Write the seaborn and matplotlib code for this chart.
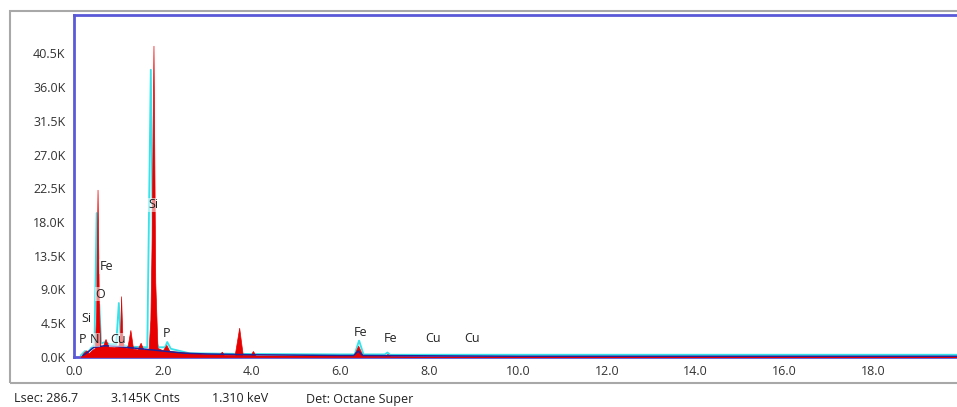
import numpy as np
import pandas as pd
import seaborn as sns
import matplotlib.pyplot as plt
from matplotlib.patches import Rectangle

# spectrum (energy in keV, counts in K)
red_kev = [0.15, 0.22, 0.28, 0.33, 0.40, 0.47, 0.50, 0.53, 0.56, 0.59, 0.65, 0.71, 0.77, 0.90,
           1.00, 1.04, 1.06, 1.09, 1.12, 1.20, 1.27, 1.33, 1.43, 1.50, 1.56, 1.68, 1.72, 1.75,
           1.79, 1.83, 1.88, 2.00, 2.08, 2.15, 2.50, 3.00, 3.28, 3.33, 3.38, 3.62,
           3.72, 3.80, 3.98, 4.03, 4.09, 5.00, 6.30, 6.40, 6.50, 7.00, 7.06, 7.12,
           8.00, 20.0]
red_cnt = [0.0, 0.6, 0.9, 0.5, 0.9, 1.2, 6.0, 22.3, 7.0, 1.5, 1.4, 2.4, 1.4, 1.3,
           1.4, 3.0, 8.1, 2.5, 1.3, 1.2, 3.6, 1.1, 1.0, 1.9, 1.0, 1.0, 5.0, 16.0,
           41.5, 10.0, 1.2, 0.9, 1.6, 0.8, 0.6, 0.4, 0.4, 0.7, 0.3, 0.3,
           3.9, 0.3, 0.3, 0.8, 0.2, 0.2, 0.2, 1.5, 0.2, 0.15, 0.4, 0.1,
           0.05, 0.0]

cyan_kev = [0.15, 0.25, 0.30, 0.40, 0.46, 0.51, 0.54, 0.57, 0.61, 0.70, 0.80, 0.95,
            1.01, 1.06, 1.20, 1.65, 1.73, 1.80, 1.90, 2.05, 2.10, 2.18, 2.60, 4.00,
            6.00, 6.32, 6.42, 6.52, 7.00, 7.06, 7.12, 10.0, 20.0]
cyan_cnt = [0.2, 0.8, 0.5, 1.3, 1.6, 19.2, 5.0, 7.0, 1.8, 2.0, 1.7, 1.7,
            7.2, 1.8, 1.4, 1.3, 38.3, 3.0, 1.3, 1.3, 2.0, 1.1, 0.5, 0.4,
            0.35, 0.35, 2.2, 0.35, 0.35, 0.6, 0.3, 0.3, 0.3]

bg_kev = [0.20, 0.30, 0.45, 0.70, 1.00, 1.50, 2.00, 2.50, 3.00, 4.00, 6.00, 6.30,
          6.40, 6.50, 10.0, 20.0]
bg_cnt = [0.2, 0.6, 1.3, 1.5, 1.4, 1.1, 0.8, 0.5, 0.4, 0.3, 0.2, 0.2,
          0.8, 0.2, 0.1, 0.1]

labels = ["P", "N", "Si", "O", "Fe", "Cu", "Si", "P", "Fe", "Fe", "Cu", "Cu"]
label_kev = [0.20, 0.47, 0.29, 0.59, 0.74, 0.99, 1.80, 2.09, 6.46, 7.12, 8.09, 8.96]
label_cnt = [2.3, 2.3, 5.2, 8.4, 12.1, 2.3, 20.3, 3.1, 3.2, 2.4, 2.4, 2.4]

yticks = [0.0, 4.5, 9.0, 13.5, 18.0, 22.5, 27.0, 31.5, 36.0, 40.5]
xticks = [0.0, 2.0, 4.0, 6.0, 8.0, 10.0, 12.0, 14.0, 16.0, 18.0]
footer = ["Lsec: 286.7", "3.145K Cnts", "1.310 keV", "Det: Octane Super"]

sns.set_style("white")
plt.rcParams['font.family'] = ['Open Sans', 'DejaVu Sans']

red = pd.DataFrame({"kev": red_kev, "cnt": np.array(red_cnt) * 1000})
cyan = pd.DataFrame({"kev": cyan_kev, "cnt": np.array(cyan_cnt) * 1000})
bg = pd.DataFrame({"kev": bg_kev, "cnt": np.array(bg_cnt) * 1000})

fig = plt.figure(figsize=(9.57, 4.07), dpi=100)
ax = fig.add_axes([74 / 957, 50 / 407, 888 / 957, 342 / 407])

# outer grey frame
fig.patches.append(Rectangle((10 / 957, 24 / 407), 1.0, 372 / 407, transform=fig.transFigure,
                             fill=False, edgecolor="#a8a8a8", linewidth=1.5))

sns.lineplot(data=cyan, x="kev", y="cnt", ax=ax, color="#38e2ea", linewidth=1.3, zorder=2)
ax.fill_between(cyan["kev"], cyan["cnt"], color="#d8f8f8", alpha=0.5, zorder=1)
ax.fill_between(red["kev"], red["cnt"], color="#e80000", linewidth=0.5, edgecolor="#e80000", zorder=3)
sns.lineplot(data=bg, x="kev", y="cnt", ax=ax, color="#22229a", linewidth=1.1, zorder=4)

for lab, x, y in zip(labels, label_kev, label_cnt):
    ax.text(x, y * 1000, lab, fontsize=9, color="#222222", ha="center", va="center", zorder=5,
            bbox=dict(facecolor="white", alpha=0.55, edgecolor="none", pad=0.5))

ax.set_xlim(0, 20)
ax.set_ylim(0, 45600)
ax.set_xticks(xticks)
ax.set_xticklabels([f"{t:.1f}" for t in xticks])
ax.set_yticks([t * 1000 for t in yticks])
ax.set_yticklabels([f"{t:.1f}K" for t in yticks])
ax.tick_params(axis="both", labelsize=9, colors="#333333", length=2, pad=4)
ax.set_xlabel("")
ax.set_ylabel("")

for side in ["left", "top", "bottom"]:
    ax.spines[side].set_color("#5a5ad8")
    ax.spines[side].set_linewidth(2)
ax.spines["right"].set_visible(False)

for txt, xp in zip(footer, [14, 111, 212, 306]):
    fig.text(xp / 957, 1 - 399 / 407, txt, fontsize=9, color="#222222", va="center", ha="left")

fig.savefig("out.png", dpi=100)
